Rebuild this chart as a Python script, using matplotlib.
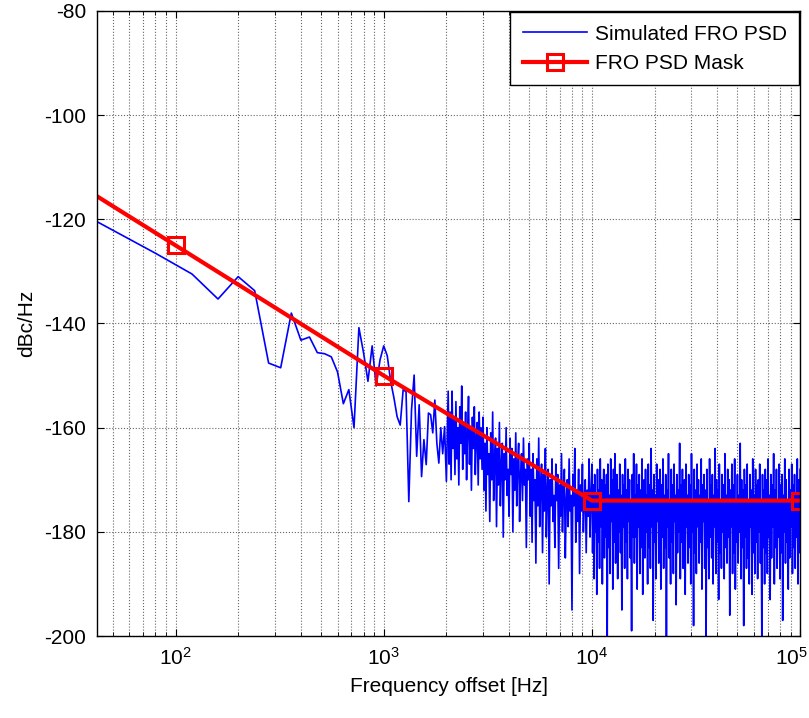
import numpy as np
import matplotlib.pyplot as plt
from matplotlib.transforms import ScaledTranslation

plt.rcParams['font.family'] = ['Liberation Sans', 'DejaVu Sans']
plt.rcParams['mathtext.fontset'] = 'custom'
plt.rcParams['mathtext.rm'] = 'Liberation Sans'
plt.rcParams['axes.unicode_minus'] = False

# Simulated FRO PSD, 40 Hz bins up to 2 kHz
f_low = np.arange(40, 2001, 40)
psd_low = [-120, -126.5, -130.5, -135.3, -131, -133.7, -147.6, -148.5, -138, -143.2,
           -142.6, -145.6, -145.8, -146.4, -149.3, -155.4, -152.7, -160, -140.8, -145.6,
           -151.1, -144.3, -152, -147, -144.3, -146.2, -151.1, -154.3, -157.9, -159.5,
           -152.7, -153.1, -174.2, -156.6, -149.9, -165.5, -155.6, -169.4, -162.3, -167.1,
           -157.2, -157.5, -161, -154.7, -163, -166.8, -160, -165, -159.8, -170.3]

# dense part of the spectrum, estimated band by band
psd_2k_3k = [-153, -167, -157, -170, -153, -164, -158, -169, -155, -166, -160, -171,
             -156, -163, -152, -168, -159, -165, -157, -170, -161, -154, -167, -160,
             -172, -158, -164, -156, -169, -162, -159, -171, -157, -166, -160, -168]
psd_3k_5k = [-158, -172, -163, -176, -160, -169, -165, -178, -161, -170, -157, -174,
             -166, -162, -179, -164, -171, -159, -175, -167, -163, -181, -165, -170,
             -160, -173, -168, -177, -162, -169, -164, -180, -166, -172, -161, -175,
             -167, -163, -178, -169, -165, -174, -162, -171, -168, -183, -166, -170]
psd_5k_10k = [-163, -177, -168, -182, -165, -174, -170, -186, -166, -175, -162, -179,
              -171, -167, -184, -169, -176, -164, -181, -172, -168, -190, -170, -175,
              -166, -178, -173, -183, -167, -174, -169, -187, -171, -177, -165, -180,
              -172, -168, -185, -174, -170, -179, -166, -176, -173, -195, -169, -175,
              -164, -182, -172, -178, -168, -188, -171, -176, -167, -180, -174, -170,
              -184, -172, -177, -166, -181, -173]
psd_10k_100k = [
    -167, -184, -171, -189, -169, -180, -173, -192, -168, -182,
    -172, -187, -166, -179, -170, -190, -174, -168, -185, -171,
    -181, -169, -200, -167, -183, -173, -188, -166, -178, -170,
    -191, -168, -182, -165, -186, -174, -169, -189, -172, -180,
    -167, -184, -173, -195, -169, -179, -171, -187, -166, -182,
    -172, -189, -168, -178, -170, -185, -174, -199, -169, -181,
    -165, -186, -173, -181, -167, -191, -171, -179, -169, -188,
    -172, -183, -166, -192, -174, -170, -185, -168, -180, -173,
    -190, -167, -183, -171, -187, -164, -179, -172, -197, -169,
    -182, -173, -189, -167, -178, -170, -186, -174, -168, -191,
    -171, -181, -166, -187, -173, -183, -169, -200, -172, -179,
    -165, -185, -174, -190, -168, -182, -171, -188, -167, -178,
    -173, -194, -169, -184, -172, -180, -163, -189, -171, -182,
    -168, -187, -174, -170, -192, -167, -179, -173, -186, -169,
    -183, -171, -190, -165, -180, -174, -198, -168, -184, -172,
    -188, -167, -179, -170, -186, -173, -182, -166, -191, -171,
    -178, -169, -187, -172, -200, -168, -183, -174, -189, -166,
    -181, -171, -185, -169, -190, -173, -179, -164, -188, -170,
    -182, -172, -193, -167, -184, -174, -187, -169, -180, -171,
    -189, -165, -183, -173, -186, -168, -181, -170, -196, -172,
    -179, -167, -188, -171, -184, -166, -191, -174, -182, -169,
    -186, -173, -180, -163, -189, -170, -183, -172, -198, -168,
    -181, -171, -187, -167, -185, -174, -190, -169, -179, -172,
    -192, -166, -184, -173, -188, -168, -182, -171, -189, -170,
    -180, -167, -186, -174, -200, -169, -183, -172, -190, -168,
    -184, -170, -188, -166, -181, -173, -193, -169, -185, -171,
    -179, -165, -190, -172, -183, -168, -187, -174, -181, -167,
    -189, -171, -184, -169, -197, -173, -180, -166, -186, -170,
    -182, -174, -191, -168, -185, -172, -179, -167, -188, -171,
    -183, -169, -187, -173, -181, -166, -190, -170, -184, -168]

# mask corner points
mask_f = [10, 100, 1e3, 1e4, 1e5]
mask_db = [-100, -125, -150, -174, -174]

# assemble frequency axis for the dense bands
f_dense = np.concatenate([
    np.geomspace(2040, 3000, len(psd_2k_3k), endpoint=False),
    np.geomspace(3000, 5000, len(psd_3k_5k), endpoint=False),
    np.geomspace(5000, 1e4, len(psd_5k_10k), endpoint=False),
    np.geomspace(1e4, 1e5, len(psd_10k_100k)),
])
f_sim = np.concatenate([f_low, f_dense])
psd_sim = np.concatenate([psd_low, psd_2k_3k, psd_3k_5k, psd_5k_10k, psd_10k_100k])

fig = plt.figure(figsize=(8.09, 7.18), dpi=100)
ax = fig.add_axes([0.12, 0.1142, 0.869, 0.8705])

ax.semilogx(f_sim, psd_sim, color='#0000ff', lw=1.2, label='Simulated FRO PSD')
ax.semilogx(mask_f, mask_db, color='#ff0000', lw=3, marker='s', markersize=11,
            markerfacecolor='none', markeredgewidth=2.2, label='FRO PSD Mask')

ax.set_xlim(42, 1e5)
ax.set_ylim(-200, -80)
ax.set_yticks(np.arange(-200, -79, 20))

ax.grid(True, which='major', color='0.4', linestyle=':', linewidth=0.8)
ax.grid(True, which='minor', axis='x', color='0.4', linestyle=':', linewidth=0.8)
ax.tick_params(which='both', direction='in', top=True, right=True, labelsize=15)
ax.tick_params(which='major', length=5, pad=8)
ax.tick_params(which='minor', length=3)
for s in ax.spines.values():
    s.set_linewidth(1.0)

ax.set_xlabel('Frequency offset [Hz]', fontsize=15, labelpad=6)
ax.set_ylabel('dBc/Hz', fontsize=15, labelpad=6)

leg = ax.legend(loc='upper right', fontsize=15, fancybox=False, edgecolor='black',
                framealpha=1, borderaxespad=0.05, handlelength=3.1, handletextpad=0.35,
                labelspacing=0.5, borderpad=0.6)
leg.get_frame().set_linewidth(1.0)

# keep the last decade label inside the canvas
fig.canvas.draw()
for lbl in ax.get_xticklabels():
    if '5' in lbl.get_text():
        lbl.set_transform(lbl.get_transform() + ScaledTranslation(-9 / 100, 0, fig.dpi_scale_trans))

fig.savefig('out.png', dpi=100)
